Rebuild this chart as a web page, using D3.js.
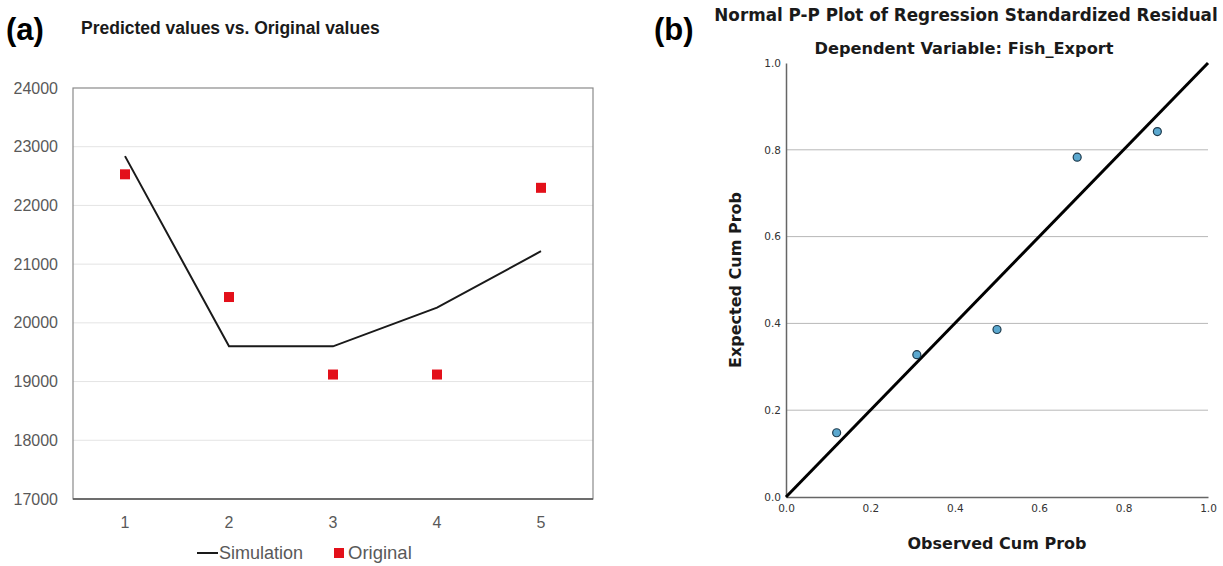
<!DOCTYPE html>
<html>
<head>
<meta charset="utf-8">
<script src="https://cdn.jsdelivr.net/npm/d3@7"></script>
<style>
  html, body { margin: 0; padding: 0; background: #fff; }
  svg { display: block; }
</style>
</head>
<body>
<svg id="chart" width="1223" height="566"></svg>
<script>
// panel (a) data
const categories = [1, 2, 3, 4, 5];
const simulation = [22840, 19600, 19600, 20260, 21220];
const original = [22530, 20440, 19120, 19120, 22300];
const yTicksA = [17000, 18000, 19000, 20000, 21000, 22000, 23000, 24000];

// panel (b) data
const observedCumProb = [0.12, 0.31, 0.50, 0.69, 0.88];
const expectedCumProb = [0.148, 0.328, 0.386, 0.783, 0.842];
const ticksB = [0, 0.2, 0.4, 0.6, 0.8, 1.0];

const svg = d3.select("#chart");
const sansA = "'Liberation Sans', Arial, sans-serif";
const sansB = "'DejaVu Sans', 'Noto Sans', sans-serif";

// ---------- panel (a) ----------
const xA = d3.scalePoint().domain(categories).range([73, 593]).padding(0.5);
const yA = d3.scaleLinear().domain([17000, 24000]).range([499, 88]);

svg.append("text")
  .attr("x", 6).attr("y", 40)
  .attr("font-family", sansA).attr("font-weight", "bold").attr("font-size", 31)
  .text("(a)");
svg.append("text")
  .attr("x", 81).attr("y", 34)
  .attr("font-family", sansA).attr("font-weight", "bold").attr("font-size", 17.5)
  .attr("fill", "#1a1a1a")
  .text("Predicted values vs. Original values");

const gA = svg.append("g");
// gridlines
gA.selectAll("line.grid")
  .data(yTicksA.slice(1, -1))
  .join("line")
  .attr("x1", 73).attr("x2", 593)
  .attr("y1", d => yA(d)).attr("y2", d => yA(d))
  .attr("stroke", "#e4e4e4").attr("stroke-width", 1);
// frame
gA.append("rect")
  .attr("x", 73).attr("y", yA(24000))
  .attr("width", 520).attr("height", yA(17000) - yA(24000))
  .attr("fill", "none").attr("stroke", "#8a8a8a").attr("stroke-width", 1.2);
gA.append("line")
  .attr("x1", 73).attr("x2", 593).attr("y1", yA(17000)).attr("y2", yA(17000))
  .attr("stroke", "#555").attr("stroke-width", 1.5);

// y tick labels
gA.selectAll("text.ytick")
  .data(yTicksA)
  .join("text")
  .attr("x", 58).attr("y", d => yA(d))
  .attr("dy", "0.35em").attr("text-anchor", "end")
  .attr("font-family", sansA).attr("font-size", 16).attr("fill", "#595959")
  .text(d => d);
// x tick labels
gA.selectAll("text.xtick")
  .data(categories)
  .join("text")
  .attr("x", d => xA(d)).attr("y", 528)
  .attr("text-anchor", "middle")
  .attr("font-family", sansA).attr("font-size", 16).attr("fill", "#595959")
  .text(d => d);

// simulation line
const lineA = d3.line().x((d, i) => xA(categories[i])).y(d => yA(d));
gA.append("path")
  .datum(simulation)
  .attr("d", lineA)
  .attr("fill", "none").attr("stroke", "#1a1a1a").attr("stroke-width", 2);

// original squares
const sq = 10;
gA.selectAll("rect.orig")
  .data(original)
  .join("rect")
  .attr("x", (d, i) => xA(categories[i]) - sq / 2)
  .attr("y", d => yA(d) - sq / 2)
  .attr("width", sq).attr("height", sq)
  .attr("fill", "#e3101a");

// legend
const legA = gA.append("g").attr("transform", "translate(197,553)");
legA.append("line").attr("x1", 0).attr("x2", 21).attr("y1", 0).attr("y2", 0)
  .attr("stroke", "#1a1a1a").attr("stroke-width", 2);
legA.append("text").attr("x", 22).attr("y", 0).attr("dy", "0.35em")
  .attr("font-family", sansA).attr("font-size", 18).attr("fill", "#595959")
  .text("Simulation");
legA.append("rect").attr("x", 137).attr("y", -5).attr("width", 10).attr("height", 10)
  .attr("fill", "#e3101a");
legA.append("text").attr("x", 151).attr("y", 0).attr("dy", "0.35em")
  .attr("font-family", sansA).attr("font-size", 18.5).attr("fill", "#595959")
  .text("Original");

// ---------- panel (b) ----------
const xB = d3.scaleLinear().domain([0, 1]).range([786, 1208]);
const yB = d3.scaleLinear().domain([0, 1]).range([497, 63]);

svg.append("text")
  .attr("x", 654).attr("y", 40)
  .attr("font-family", sansA).attr("font-weight", "bold").attr("font-size", 31)
  .text("(b)");
svg.append("text")
  .attr("x", 966).attr("y", 21).attr("text-anchor", "middle")
  .attr("font-family", sansB).attr("font-weight", "bold").attr("font-size", 16.8)
  .attr("fill", "#1a1a1a")
  .text("Normal P-P Plot of Regression Standardized Residual");
svg.append("text")
  .attr("x", 964).attr("y", 54).attr("text-anchor", "middle")
  .attr("font-family", sansB).attr("font-weight", "bold").attr("font-size", 16.2)
  .attr("fill", "#1a1a1a")
  .text("Dependent Variable: Fish_Export");

const gB = svg.append("g");
// gridlines
gB.selectAll("line.grid")
  .data(ticksB.slice(1, -1))
  .join("line")
  .attr("x1", xB(0)).attr("x2", xB(1))
  .attr("y1", d => yB(d)).attr("y2", d => yB(d))
  .attr("stroke", "#b8b8b8").attr("stroke-width", 1);

const fmt = d3.format(".1f");
const axL = gB.append("g").attr("transform", `translate(${xB(0)},0)`)
  .call(d3.axisLeft(yB).tickValues(ticksB).tickFormat(fmt).tickSize(0).tickPadding(5));
const axB = gB.append("g").attr("transform", `translate(0,${yB(0)})`)
  .call(d3.axisBottom(xB).tickValues(ticksB).tickFormat(fmt).tickSize(0).tickPadding(8));
[axL, axB].forEach(ax => {
  ax.select(".domain").attr("stroke", "#666").attr("stroke-width", 1.5);
  ax.selectAll("text").attr("font-family", sansB).attr("font-size", 10.5).attr("fill", "#333");
});

// reference line
gB.append("line")
  .attr("x1", xB(0)).attr("y1", yB(0)).attr("x2", xB(1)).attr("y2", yB(1))
  .attr("stroke", "#000").attr("stroke-width", 3);

// points
gB.selectAll("circle.pt")
  .data(observedCumProb)
  .join("circle")
  .attr("cx", d => xB(d))
  .attr("cy", (d, i) => yB(expectedCumProb[i]))
  .attr("r", 4)
  .attr("fill", "#5ba8cf").attr("stroke", "#1f3b4d").attr("stroke-width", 1.2);

// axis titles
gB.append("text")
  .attr("x", xB(0.5)).attr("y", 549).attr("text-anchor", "middle")
  .attr("font-family", sansB).attr("font-weight", "bold").attr("font-size", 16)
  .attr("fill", "#1a1a1a")
  .text("Observed Cum Prob");
gB.append("text")
  .attr("transform", `translate(741,${yB(0.5)}) rotate(-90)`)
  .attr("text-anchor", "middle")
  .attr("font-family", sansB).attr("font-weight", "bold").attr("font-size", 16)
  .attr("fill", "#1a1a1a")
  .text("Expected Cum Prob");
</script>
</body>
</html>
